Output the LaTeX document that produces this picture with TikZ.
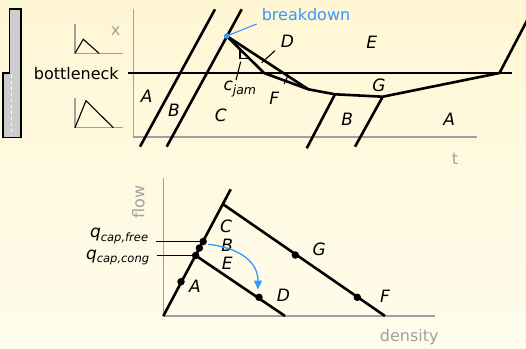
\documentclass[tikz,border=0pt]{standalone}
\usepackage{fontspec}
\setmainfont{DejaVu Sans}
\usepackage{xcolor}
\usepackage{tikz}
\usetikzlibrary{arrows.meta,positioning}
\definecolor{bgtop}{RGB}{255,246,212}
\definecolor{bgbot}{RGB}{255,252,236}
\definecolor{axisgray}{RGB}{160,160,160}
\definecolor{bdblue}{RGB}{51,153,255}
\definecolor{roadgray}{RGB}{205,205,205}

\begin{document}
\begin{tikzpicture}[x=1pt, y=-1pt,
    traj/.style={line width=2.6pt},
    axis/.style={draw=axisgray, line width=1.1pt},
    thinline/.style={line width=1.1pt},
    lbl/.style={font=\fontsize{17}{20}\selectfont\itshape, inner sep=0pt},
    txt/.style={font=\fontsize{16}{19}\selectfont, inner sep=0pt},
    dot/.style={circle, fill=black, inner sep=0pt, minimum size=7.5pt}]
\shade[top color=bgtop, bottom color=bgbot] (0,0) rectangle (526,348);
\useasboundingbox (0,0) rectangle (526,348);

% road with bottleneck
\filldraw[fill=roadgray, line width=1.6pt] (9.3,9) -- (20.7,9) -- (20.7,137.3) -- (2.7,137.3) -- (2.7,72.7) -- (9.3,72.7) -- cycle;
\draw[white, dashed, line width=1pt] (11.5,75) -- (11.5,135);

% small fundamental diagrams
\draw[axis] (75,24) -- (75,53.3) -- (122.7,53.3);
\draw[thinline] (75,53.3) -- (83.3,39.3) -- (99,53.3);
\draw[axis] (75,98.3) -- (75,127.7) -- (122.7,127.7);
\draw[thinline] (75,127.7) -- (86,100.7) -- (113.3,127.7);
\node[txt, text=axisgray] (xlab) at (115.7,30.7) {x};
\node[txt] (bn) at (76.3,73.3) {bottleneck};

% time-space diagram
\draw[axis] (133.3,9.3) -- (133.3,137) -- (476.7,137);
\node[txt, text=axisgray] (tlab) at (455,159.3) {t};
\draw[thinline] (128.3,73) -- (511.7,73);

\coordinate (bk) at (226.7,36);
\coordinate (s1) at (264,73);
\coordinate (s2) at (308.3,89.3);
\coordinate (s3) at (335,94.3);
\coordinate (s4) at (382.7,96.7);
\coordinate (s5) at (499.5,73);

\draw[traj] (140,146.7) -- (215,9.3);
\draw[traj] (166.7,146.7) -- (241.7,9.3);
\draw[traj] (306.7,148.3) -- (s3);
\draw[traj] (355,146.7) -- (s4);
\draw[traj] (s5) -- (527.3,20);
\draw[traj] (bk) -- (s1) -- (s2) -- (s3) -- (s4) -- (s5);
\draw[traj] (bk) -- (s2);
\draw[traj] (s1) -- (s5);
\draw[thinline] (240,49.3) -- (240,58.3) -- (249.3,58.3);

\node[lbl] (tA1) at (146.7,96.7) {A};
\node[lbl] (tB1) at (174,110) {B};
\node[lbl] (tC) at (220.7,115) {C};
\node[lbl] (tD) at (287.3,41.7) {D};
\node[lbl] (tE) at (371.7,42.7) {E};
\node[lbl] (tF) at (274.3,98.3) {F};
\node[lbl] (tG) at (379,85) {G};
\node[lbl] (tB2) at (347.3,119.3) {B};
\node[lbl] (tA2) at (449.3,119.3) {A};
\node[lbl, anchor=base west] (cjam) at (223.3,90) {c\raisebox{-4.3pt}{\fontsize{12.5}{15}\selectfont jam}};
\draw[thinline] (275,50.7) -- (261.7,62.7);
\draw[thinline] (240.7,61.7) -- (236,80);
\draw[thinline] (287.3,77.3) -- (284,84);

\node[txt, text=bdblue] (bdlab) at (306,14.7) {breakdown};
\coordinate (bdend) at (256.7,24);
\draw[bdblue, thinline] (bk) -- (bdend);
\fill[bdblue] (bk) circle (2.8);

% fundamental diagram
\draw[axis] (163.3,177.7) -- (163.3,316) -- (435,316);
\node[txt, text=axisgray, rotate=90] (flowlab) at (138.3,201.7) {flow};
\node[txt, text=axisgray] (denslab) at (409.3,337.2) {density};

\coordinate (o) at (163.3,316);
\coordinate (fftop) at (230.7,189.3);
\coordinate (c1) at (222.7,204);
\coordinate (c1end) at (385,316);
\coordinate (c2end) at (285,316);
\draw[traj] (o) -- (fftop);
\draw[traj] (c1) -- (c1end);
\draw[traj] (195.6,255.5) -- (c2end);

\node[dot] (qcong) at (195.6,255.5) {};
\node[dot] (qB) at (199.4,248) {};
\node[dot] (qfree) at (203.2,241.5) {};
\node[dot] (pA) at (181,281.7) {};
\node[dot] (pG) at (295.3,255) {};
\node[dot] (pF) at (357.3,297.3) {};
\node[dot] (pD) at (259,297.3) {};

\draw[line width=1.6pt] (156,241.5) -- (qfree.center);
\draw[line width=1.6pt] (156.5,255.5) -- (qcong.center);
\node[lbl, anchor=base east] (qfreelab) at (148.3,237.7) {q\raisebox{-3.5pt}{\fontsize{11.5}{14}\selectfont cap,free}};
\node[lbl, anchor=base east] (qconglab) at (149.3,259.3) {q\raisebox{-3.5pt}{\fontsize{11.5}{14}\selectfont cap,cong}};

\node[lbl] (fC) at (226,226.7) {C};
\node[lbl] (fB) at (227.3,245) {B};
\node[lbl] (fE) at (227.3,263.3) {E};
\node[lbl] (fA) at (195,286) {A};
\node[lbl] (fG) at (319.3,249.3) {G};
\node[lbl] (fD) at (283.3,295) {D};
\node[lbl] (fF) at (385,296) {F};

\coordinate (arrS) at (208.3,244.3);
\coordinate (arrE) at (258,289.5);
\draw[bdblue, line width=1.3pt, -{Triangle[length=9pt,width=8pt]}] (arrS) .. controls (240,248) and (258,262) .. (arrE);
\end{tikzpicture}
\end{document}
